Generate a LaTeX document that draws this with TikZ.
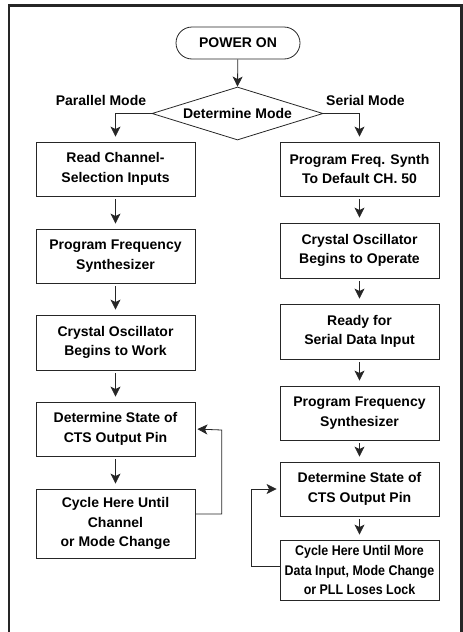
\documentclass[tikz,border=0pt]{standalone}
\usepackage{fontspec}
\setmainfont{Liberation Sans}
\newfontfamily\narrowfont[FakeStretch=0.89]{Liberation Sans}
\usetikzlibrary{shapes.geometric,shapes.misc,arrows.meta}
\begin{document}
\begin{tikzpicture}[x=1pt,y=-1pt,
  every node/.style={font=\fontsize{14pt}{19.5pt}\selectfont\bfseries, align=center},
  procbox/.style={draw=black!85, line width=0.8pt, minimum width=159pt, inner sep=0pt},
  flow/.style={draw=black!85, line width=0.8pt, -{Stealth[length=10pt,width=10pt,inset=2.5pt]}},
  framebar/.style={draw=black!85, line width=2.5pt}
]
\useasboundingbox (0,0) rectangle (463,632);
% outer frame (open at bottom)
\coordinate (fbl) at (9,640);
\coordinate (ftl) at (9,5.5);
\coordinate (ftr) at (461.5,5.5);
\coordinate (fbr) at (461.5,640);
\draw[framebar] (fbl) -- (ftl) -- (ftr) -- (fbr);

\node[draw=black!85, line width=0.8pt, rounded rectangle, minimum width=124pt, minimum height=32pt, inner sep=0pt] (pwr) at (238,43) {POWER ON};
\node[draw=black!85, line width=0.8pt, diamond, aspect=3.23, minimum width=171pt, minimum height=53pt, inner sep=0pt] (mode) at (237.5,113.5) {Determine Mode};
\node (plab) at (101,100) {Parallel Mode};
\node (slab) at (365.5,100) {Serial Mode};

% left column
\node[procbox, minimum height=54pt] (L1) at (115.5,169) {Read Channel-\\Selection Inputs};
\node[procbox, minimum height=54pt] (L2) at (115.5,256) {Program Frequency\\Synthesizer};
\node[procbox, minimum height=55pt] (L3) at (115.5,342.5) {Crystal Oscillator\\Begins to Work};
\node[procbox, minimum height=54pt] (L4) at (115.5,429) {Determine State of\\CTS Output Pin};
\node[procbox, minimum height=69pt] (L5) at (115.5,523.5) {Cycle Here Until\\Channel\\or Mode Change};

% right column
\node[procbox, minimum height=54pt] (R1) at (359.5,169) {Program Freq. Synth\\To Default CH. 50};
\node[procbox, minimum height=55pt] (R2) at (359.5,250.5) {Crystal Oscillator\\Begins to Operate};
\node[procbox, minimum height=55pt] (R3) at (359.5,331.5) {Ready for\\Serial Data Input};
\node[procbox, minimum height=54pt] (R4) at (359.5,413) {Program Frequency\\Synthesizer};
\node[procbox, minimum height=54pt] (R5) at (359.5,489) {Determine State of\\CTS Output Pin};
\node[procbox, minimum height=60pt, font=\fontsize{14pt}{19.5pt}\narrowfont\bfseries] (R6) at (359.5,570) {Cycle Here Until More\\Data Input, Mode Change\\or PLL Loses Lock};

% connectors
\draw[flow] (pwr) -- (mode.north);
\draw[flow, shorten >=5pt] (mode.west) -| (L1.north);
\draw[flow, shorten >=5pt] (mode.east) -| (R1.north);
\foreach \a/\b in {L1/L2,L2/L3,L3/L4,L4/L5,R1/R2,R2/R3,R3/R4,R4/R5,R5/R6}
  \draw[flow, shorten <=3pt, shorten >=5pt] (\a.south) -- (\b.north);

\coordinate (lloop) at (221.7,430);
\draw[flow, shorten >=2pt] ([yshift=9.5pt]L5.east) -| (lloop) -- (L4.east);
\coordinate (rloop) at (251.7,489);
\draw[flow, shorten >=3pt] ([yshift=4pt]R6.west) -| (rloop) -- (R5.west);
\end{tikzpicture}
\end{document}
